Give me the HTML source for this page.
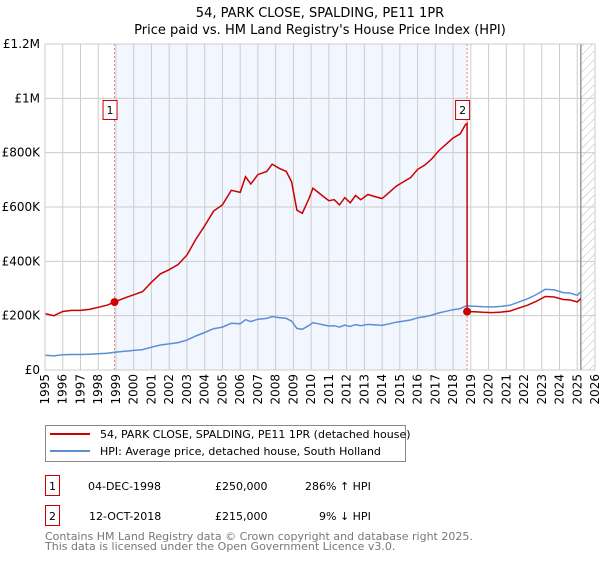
<!DOCTYPE html>
<html><head><meta charset="utf-8"><style>
body{margin:0;background:#fff;font-family:"DejaVu Sans","Liberation Sans",sans-serif;}
svg text{font-family:"DejaVu Sans","Liberation Sans",sans-serif;}
</style></head><body>
<svg id="chart" width="600" height="560" viewBox="0 0 600 560" xmlns="http://www.w3.org/2000/svg">
<defs><pattern id="hatch" width="6" height="6" patternUnits="userSpaceOnUse" patternTransform="rotate(45)"><line x1="0" y1="0" x2="0" y2="6" stroke="#bbb" stroke-width="1"/></pattern></defs>
<text x="320" y="17" text-anchor="middle" font-size="13">54, PARK CLOSE, SPALDING, PE11 1PR</text>
<text x="320" y="34" text-anchor="middle" font-size="13">Price paid vs. HM Land Registry's House Price Index (HPI)</text>
<g id="plot"></g>
<g>
<rect x="45.5" y="425.5" width="360" height="36" fill="#fff" stroke="#888"/>
<line x1="50" y1="434" x2="90" y2="434" stroke="#cc0000" stroke-width="2"/>
<text x="100" y="438" font-size="11">54, PARK CLOSE, SPALDING, PE11 1PR (detached house)</text>
<line x1="50" y1="451" x2="90" y2="451" stroke="#5b8fd4" stroke-width="2"/>
<text x="100" y="455" font-size="11">HPI: Average price, detached house, South Holland</text>
</g>
<g font-size="11">
<rect x="45.5" y="475.5" width="14" height="20" fill="#fff" stroke="#cc0000"/>
<text x="52.5" y="490" text-anchor="middle">1</text>
<text x="88" y="490">04-DEC-1998</text>
<text x="215" y="490">£250,000</text>
<text x="305" y="490">286% ↑ HPI</text>
<rect x="45.5" y="505.5" width="14" height="20" fill="#fff" stroke="#cc0000"/>
<text x="52.5" y="520" text-anchor="middle">2</text>
<text x="89" y="520">12-OCT-2018</text>
<text x="215" y="520">£215,000</text>
<text x="319" y="520">9% ↓ HPI</text>
</g>
<text x="45" y="540" font-size="11" fill="#777">Contains HM Land Registry data © Crown copyright and database right 2025.</text>
<text x="45" y="550" font-size="11" fill="#777">This data is licensed under the Open Government Licence v3.0.</text>
</svg>
<script>
const years=[1995,1995.5,1996,1996.5,1997,1997.5,1998,1998.5,1998.92,1999.5,2000,2000.5,2001,2001.5,2002,2002.5,2003,2003.5,2004,2004.5,2005,2005.5,2006,2006.3,2006.6,2007,2007.5,2007.8,2008.2,2008.6,2008.9,2009.2,2009.5,2009.9,2010.1,2010.4,2010.7,2011,2011.3,2011.6,2011.9,2012.2,2012.5,2012.8,2013.2,2013.6,2014,2014.4,2014.8,2015.2,2015.6,2016,2016.4,2016.8,2017.2,2017.6,2018,2018.4,2018.7,2018.79,2019.2,2019.7,2020.2,2020.7,2021.2,2021.7,2022.2,2022.7,2023.2,2023.7,2024.2,2024.6,2025,2025.2];
const hpi=[54,52,56,57,57,58,60,62,65,69,72,75,84,92,96,101,110,125,138,152,158,172,170,185,178,187,190,197,193,190,180,153,150,165,174,170,166,162,163,158,165,160,167,163,168,166,164,170,176,180,184,192,196,202,210,216,222,226,235,236,235,233,232,234,238,250,262,278,297,295,285,283,275,288,281];
const hpiK=hpi.map(v=>v*1000);
const saleYears=[1998.92,2018.79];
const salePrices=[250000,215000];
const yTicks=[0,200000,400000,600000,800000,1000000,1200000];
const yTickLabels=["£0","£200K","£400K","£600K","£800K","£1M","£1.2M"];
const xTicks=[1995,1996,1997,1998,1999,2000,2001,2002,2003,2004,2005,2006,2007,2008,2009,2010,2011,2012,2013,2014,2015,2016,2017,2018,2019,2020,2021,2022,2023,2024,2025,2026];
const dataEnd=2025.2;

const X0=45,X1=595,Y0=370,Y1=44;
const xs=y=>X0+(y-1995)/(2026-1995)*(X1-X0);
const ys=v=>Y0-v/1200000*(Y0-Y1);
const NS="http://www.w3.org/2000/svg";
const g=document.getElementById('plot');
function mk(t,a,p){const e=document.createElementNS(NS,t);for(const k in a)e.setAttribute(k,a[k]);(p||g).appendChild(e);return e;}
function hpiAt(y){for(let i=0;i<years.length-1;i++){if(y>=years[i]&&y<=years[i+1]){const t=(y-years[i])/(years[i+1]-years[i]);return hpiK[i]+t*(hpiK[i+1]-hpiK[i]);}}return hpiK[hpiK.length-1];}

let e=mk('rect',{x:xs(saleYears[0]),y:Y1,width:xs(saleYears[1])-xs(saleYears[0]),height:Y0-Y1,fill:'#f2f6fe'});


e=mk('rect',{x:xs(dataEnd),y:Y1,width:X1-xs(dataEnd),height:Y0-Y1,fill:'url(#hatch)'});


xTicks.forEach(t=>{
  e=mk('line',{x1:xs(t),y1:Y1,x2:xs(t),y2:Y0,stroke:'#ccc','stroke-width':1});
  
  
  e=mk('text',{x:0,y:0,'font-size':12,'text-anchor':'end',transform:`translate(${xs(t)+4},${Y0+4}) rotate(-90)`});
  e.textContent=t;
  
  
});
yTicks.forEach((t,i)=>{
  e=mk('line',{x1:X0,y1:ys(t),x2:X1,y2:ys(t),stroke:'#ccc','stroke-width':1});
  
  
  e=mk('text',{x:X0-5,y:ys(t)+4,'font-size':12,'text-anchor':'end'});
  e.textContent=yTickLabels[i];
  
  
});
e=mk('line',{x1:xs(dataEnd),y1:Y1,x2:xs(dataEnd),y2:Y0,stroke:'#999','stroke-width':1.5});


saleYears.forEach((s,i)=>{
  e=mk('line',{x1:xs(s),y1:Y1,x2:xs(s),y2:Y0,stroke:'#f77','stroke-width':1,'stroke-dasharray':'2,2'});
  
  
});
// HPI line
let d=years.map((y,i)=>(i?'L':'M')+xs(y).toFixed(1)+','+ys(hpiK[i]).toFixed(1)).join('');
e=mk('path',{d:d,fill:'none',stroke:'#5b8fd4','stroke-width':1.5});


// property line indexed from sales
const f1=salePrices[0]/hpiAt(saleYears[0]),f2=salePrices[1]/hpiAt(saleYears[1]);
let pts=[];
years.forEach((y,i)=>{
  if(y<saleYears[1])pts.push([y,hpiK[i]*f1]);
  else if(y===saleYears[1]){pts.push([y,hpiK[i]*f1]);pts.push([y,salePrices[1]]);}
  else pts.push([y,hpiK[i]*f2]);
});
d=pts.map((p,i)=>(i?'L':'M')+xs(p[0]).toFixed(1)+','+ys(p[1]).toFixed(1)).join('');
e=mk('path',{d:d,fill:'none',stroke:'#cc0000','stroke-width':1.5});


saleYears.forEach((s,i)=>{
  e=mk('circle',{cx:xs(s),cy:ys(salePrices[i]),r:4,fill:'#cc0000'});
  
  
  e=mk('rect',{x:xs(s)-11.5,y:100.5,width:14,height:19,fill:'#fff',stroke:'#cc0000'});
  
  
  e=mk('text',{x:xs(s)-4.5,y:114,'font-size':11,'text-anchor':'middle'});
  e.textContent=String(i+1);
  
  
});
e=mk('rect',{x:X0,y:Y1,width:X1-X0,height:Y0-Y1,fill:'none',stroke:'#ccc'});


</script>
</body></html>
